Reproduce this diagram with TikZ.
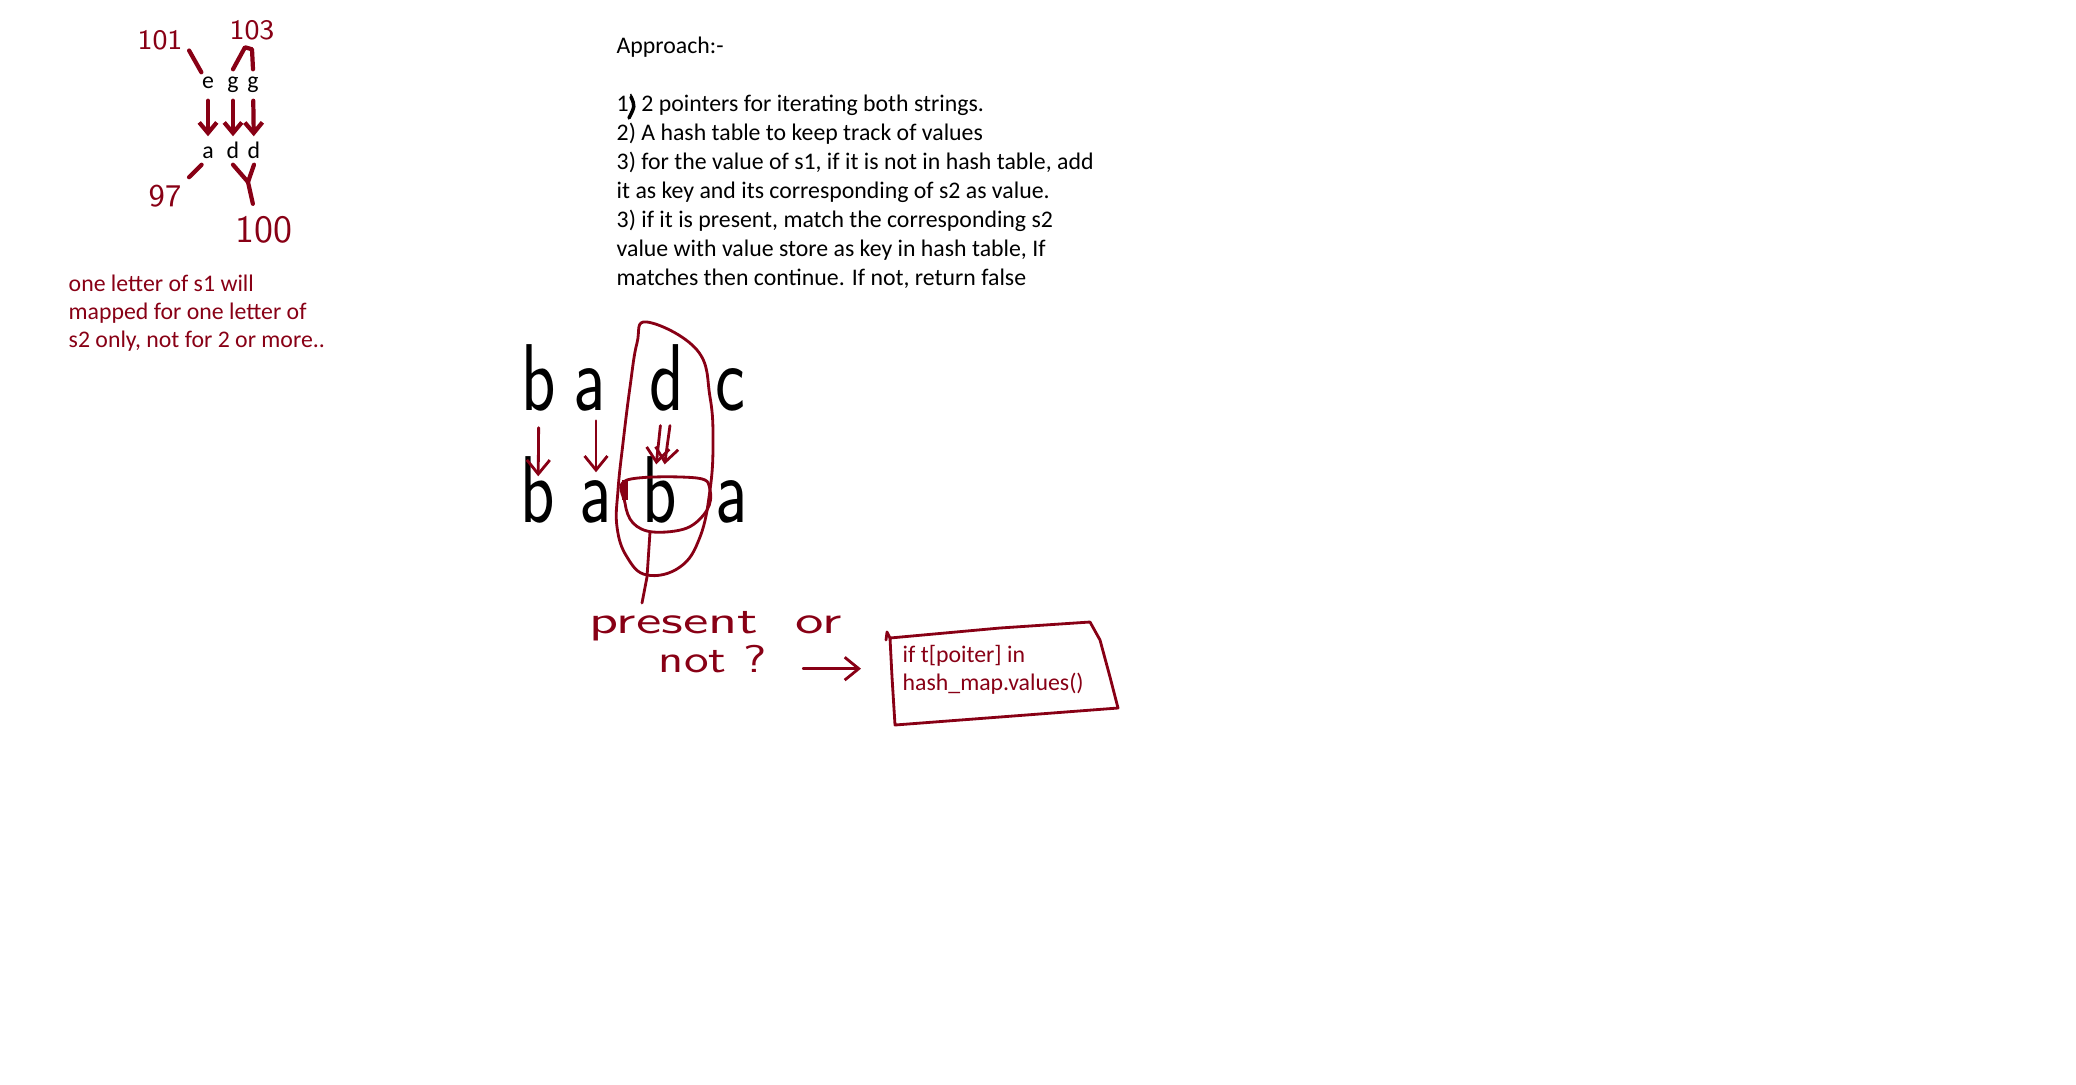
\documentclass[tikz,border=0pt]{standalone}
\usepackage{fontspec}
\setmainfont{Carlito}
\usepackage{tikz}
\usetikzlibrary{arrows.meta,calc,positioning}
\definecolor{ink}{RGB}{136,0,21}
\newcommand{\topline}{\rule{0pt}{5.6pt}}
\tikzset{
  note/.style={font=\fontsize{6.77}{8.25}\selectfont, align=left, inner sep=0pt, anchor=north west},
  small/.style={font=\fontsize{6.77}{8.25}\selectfont, inner sep=0pt, text height=0.18cm, text depth=0.06cm, anchor=base},
  big/.style={font=\sffamily\fontsize{27}{30}\selectfont, inner sep=0pt, xscale=0.75, text height=0.45cm, text depth=0pt, anchor=base},
  hand/.style={text=ink, inner sep=0pt},
  pen/.style={draw=ink, line width=1.2pt, line cap=round, line join=round},
  thinpen/.style={draw=ink, line width=0.8pt, line cap=round, line join=round},
  arr/.style={pen, -{Straight Barb[length=3pt,width=5pt]}},
  bigarr/.style={thinpen, -{Straight Barb[length=4pt,width=6.5pt]}}
}
\begin{document}
\begin{tikzpicture}[x=0.01cm, y=-0.01cm]
  \useasboundingbox (0,0) rectangle (2076,1084);
  % egg -> add
  \node[small] (e1) at (208,88) {e};\node[small] (g1) at (233,88) {g};\node[small] (g2) at (253,88) {g};
  \node[small] (a1) at (208,158) {a};\node[small] (d1) at (233,158) {d};\node[small] (d2) at (254,158) {d};
  \draw[arr, shorten <=0.06cm, shorten >=0.03cm] (e1) -- (a1);
  \draw[arr, shorten <=0.06cm, shorten >=0.03cm] (g1) -- (d1);
  \draw[arr, shorten <=0.06cm, shorten >=0.03cm] (g2) -- (d2);
  \node[hand, font=\sffamily\fontsize{8}{8}\selectfont] (n101) at (160,40) {101};
  \node[hand, font=\sffamily\fontsize{8}{8}\selectfont] (n103) at (252,30) {103};
  \node[hand, font=\sffamily\fontsize{9}{9}\selectfont] (n97) at (165,196) {97};
  \node[hand, font=\sffamily\fontsize{11}{11}\selectfont] (n100) at (264,230) {100};
  \draw[pen] ([xshift=0.06cm]n101.south east) -- ([yshift=-0.03cm]e1.north west);
  \draw[pen] (g1.north) -- ++(12,-22) -- ++(7,2) -- (g2.north);
  \draw[pen, shorten >=0.1cm] (a1.south west) -- (n97.north east);
  \coordinate (fork) at (248,182);
  \draw[pen] (d1.south) -- (fork) -- (d2.south);
  \draw[pen] (fork) -- ([xshift=0.18cm,yshift=0.12cm]n100.north west);
  \node[note, text=ink, font=\fontsize{6.77}{7.9}\selectfont] (rule) at (68,271.3) {\topline one letter of s1 will\\mapped for one letter of\\s2 only, not for 2 or more..};

  % approach
  \node[note] (approach) at (616,33.3) {\topline Approach:-\\[8.25pt]
    1) 2 pointers for iterating both strings.\\
    2) A hash table to keep track of values\\
    3) for the value of s1, if it is not in hash table, add\\
    it as key and its corresponding of s2 as value.\\
    3) if it is present, match the corresponding s2\\
    value with value store as key in hash table, If\\
    matches then continue. If not, return false};
  \draw[line width=1pt, line cap=round] (631,97) .. controls (635,106) .. (629,118);

  % badc -> baba
  \node[big] (s1b) at (539,410) {b};\node[big] (s1a) at (590,410) {a};
  \node[big] (s1d) at (667,410) {d};\node[big] (s1c) at (730,410) {c};
  \node[big] (s2b) at (538,522) {b};\node[big] (s2a) at (596,522) {a};
  \node[big] (s2bb) at (660,522) {b};\node[big] (s2aa) at (732,522) {a};
  \draw[bigarr, shorten <=0.17cm] (s1b) -- (s2b);
  \draw[bigarr, shorten <=0.1cm, shorten >=0.04cm] (s2a.north |- s1a.south) -- (s2a.north);
  \draw[bigarr, shorten <=0.15cm, shorten >=0.12cm] ([xshift=-0.05cm]s1d.south) -- ([xshift=-0.05cm]s2bb.north);
  \draw[bigarr, shorten <=0.15cm, shorten >=0.12cm] ([xshift=0.05cm]s1d.south) -- ([xshift=0.03cm]s2bb.north);
  \draw[thinpen] plot[smooth cycle, tension=0.7] coordinates {(647,322) (697,350) (710,397) (713,443) (710,490) (700,537) (680,567) (647,575) (627,557) (617,527) (618,490) (623,443) (630,387) (637,343)};
  \draw[thinpen] plot[smooth cycle, tension=0.6] coordinates {(627,480) (697,478) (710,490) (707,510) (687,528) (653,532) (633,523) (625,503)};
  \draw[ink, line width=1.8pt] (625,480) -- (625,500);
  \draw[thinpen] (650,532) -- (647,577) -- (642,603);

  % present or not
  \node[hand, font=\sffamily\fontsize{11}{11}\selectfont, xscale=1.5, anchor=base west] (present) at (588,633) {present\ \ or};
  \node[hand, font=\sffamily\fontsize{11}{11}\selectfont, xscale=1.3, anchor=base west] (notq) at (658,672) {not ?};
  \node[note, text=ink, font=\fontsize{6.77}{7.9}\selectfont] (query) at (902,642.3) {\topline if t[poiter] in\\hash\_map.values()};
  \draw[bigarr, shorten <=0.36cm, shorten >=0.41cm] (notq.east |- query.west) -- (query.west);
  \draw[thinpen] (890,638) -- (1000,628) -- (1090,622) -- (1100,640) -- (1110,677) -- (1118,708) -- (895,725) -- (892,677) -- cycle;
  \draw[thinpen] (886,640) -- (887,632) -- (890,638);
\end{tikzpicture}
\end{document}
